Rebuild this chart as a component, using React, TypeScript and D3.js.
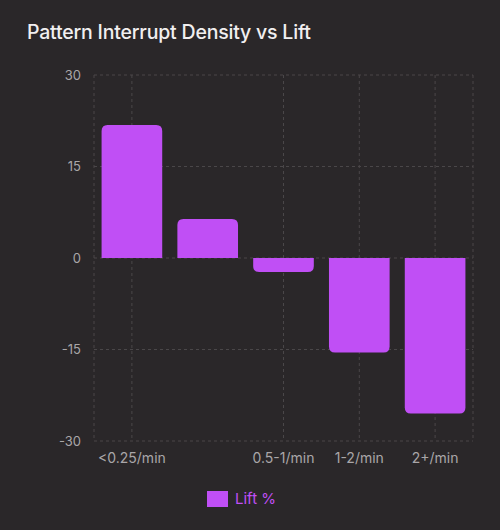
import { useRef, useEffect } from "react";
import * as d3 from "d3";

const categories = ["<0.25/min", "0.25-0.5/min", "0.5-1/min", "1-2/min", "2+/min"];
const liftValues = [21.8, 6.4, -2.3, -15.5, -25.5];
const yTicks = [-30, -15, 0, 15, 30];
const seriesName = "Lift %";

const BG = "#2a2729";
const BAR = "#c04ff5";
const GRID = "#4a4749";
const TICK = "#a9a6a8";
const FONT = "Inter, 'Noto Sans', sans-serif";

export default function App() {
  const ref = useRef<SVGSVGElement>(null);

  useEffect(() => {
    if (!ref.current) return;
    const W = 500;
    const H = 530;
    const margin = { top: 75, right: 27, bottom: 89, left: 94 };
    const w = W - margin.left - margin.right;
    const h = H - margin.top - margin.bottom;

    const svg = d3.select(ref.current);
    svg.selectAll("*").remove();

    svg.append("rect").attr("width", W).attr("height", H).attr("fill", BG);

    svg.append("text")
      .attr("x", 27).attr("y", 39)
      .attr("font-family", FONT).attr("font-size", 19.5).attr("font-weight", 500)
      .attr("letter-spacing", -0.2)
      .attr("fill", "#f1eff0")
      .text("Pattern Interrupt Density vs Lift");

    const g = svg.append("g").attr("transform", `translate(${margin.left},${margin.top})`);

    const band = d3.scaleBand().domain(categories).range([0, w]);
    const y = d3.scaleLinear().domain([-30, 30]).range([h, 0]);
    const cx = (c: string) => band(c)! + band.bandwidth() / 2;

    // decide which category labels fit (from the end backwards)
    const measure = g.append("text").attr("font-family", FONT).attr("font-size", 14);
    const widths = categories.map((c) => {
      measure.text(c);
      return (measure.node() as SVGTextElement).getComputedTextLength();
    });
    measure.remove();
    const shown = new Set<number>();
    let limit = Infinity;
    for (let i = categories.length - 1; i >= 0; i--) {
      if (cx(categories[i]) + widths[i] / 2 + 5 <= limit) {
        shown.add(i);
        limit = cx(categories[i]) - widths[i] / 2;
      }
    }

    // Grid
    const dash = "3,3";
    yTicks.forEach((t) => {
      g.append("line").attr("x1", 0).attr("x2", w).attr("y1", y(t)).attr("y2", y(t))
        .attr("stroke", GRID).attr("stroke-dasharray", dash);
    });
    const vx = [0, w, ...categories.filter((_, i) => shown.has(i)).map(cx)];
    vx.forEach((vxi) => {
      g.append("line").attr("x1", vxi).attr("x2", vxi).attr("y1", 0).attr("y2", h)
        .attr("stroke", GRID).attr("stroke-dasharray", dash);
    });

    // Y tick labels
    yTicks.forEach((t) => {
      g.append("text").attr("x", -13).attr("y", y(t)).attr("dy", "0.35em")
        .attr("text-anchor", "end").attr("font-family", FONT).attr("font-size", 13)
        .attr("fill", TICK).text(t);
    });

    // X tick labels
    categories.forEach((c, i) => {
      if (!shown.has(i)) return;
      g.append("text").attr("x", cx(c)).attr("y", h + 22)
        .attr("text-anchor", "middle").attr("font-family", FONT).attr("font-size", 14)
        .attr("fill", TICK).text(c);
    });

    // Bars with rounded far end
    const r = 6;
    const bw = band.bandwidth() * 0.8;
    categories.forEach((c, i) => {
      const v = liftValues[i];
      const x0 = band(c)! + (band.bandwidth() - bw) / 2;
      const x1 = x0 + bw;
      const y0 = y(0);
      const y1 = y(v);
      const rr = Math.min(r, Math.abs(y1 - y0));
      const s = v >= 0 ? 1 : -1;
      const d = `M${x0},${y0}V${y1 + s * rr}Q${x0},${y1} ${x0 + rr},${y1}H${x1 - rr}Q${x1},${y1} ${x1},${y1 + s * rr}V${y0}Z`;
      g.append("path").attr("d", d).attr("fill", BAR);
    });

    // Legend
    const lg = svg.append("g").attr("transform", "translate(207,491)");
    lg.append("rect").attr("width", 21).attr("height", 16).attr("fill", BAR);
    lg.append("text").attr("x", 28).attr("y", 8).attr("dy", "0.35em")
      .attr("font-family", FONT).attr("font-size", 15).attr("fill", BAR).text(seriesName);
  }, []);

  return (
    <div style={{ position: "absolute", left: 0, top: 0, width: 500, height: 530 }}>
      <svg ref={ref} width={500} height={530} style={{ display: "block" }} />
    </div>
  );
}
